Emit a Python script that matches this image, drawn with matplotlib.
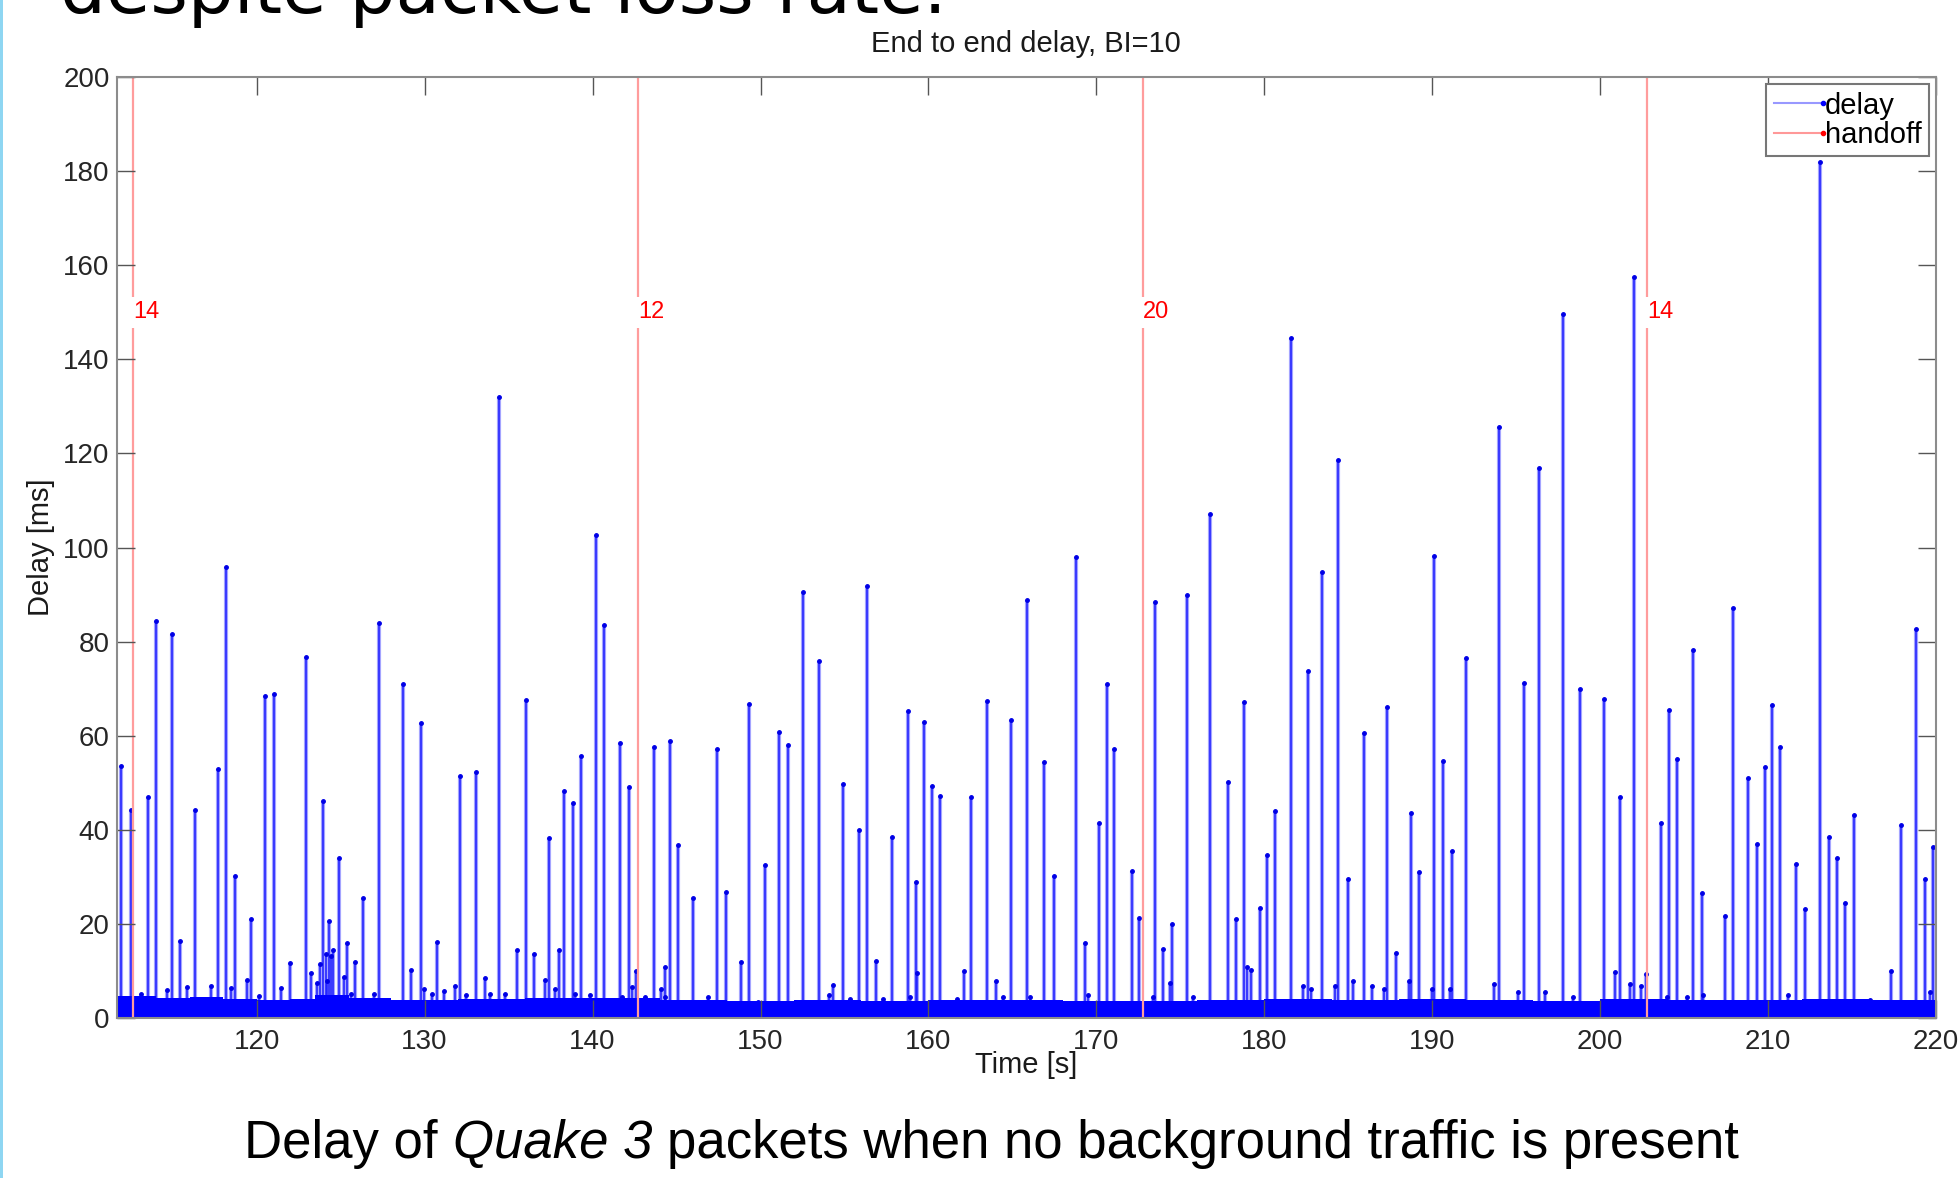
import matplotlib
matplotlib.use('Agg')
import matplotlib.pyplot as plt
from matplotlib.lines import Line2D
from matplotlib.patches import Rectangle
from matplotlib.legend_handler import HandlerLine2D

plt.rcParams['font.family'] = ['Liberation Sans', 'DejaVu Sans']

# delay spikes: time [s], peak delay [ms]
spike_t = [111.94, 112.52, 113.51, 114.0, 114.94, 115.46, 116.33, 117.7, 118.19, 118.7,
           119.66, 120.52, 121.01, 122.0, 122.96, 123.95, 124.33, 124.92, 125.38, 125.83,
           126.31, 127.26, 128.71, 129.17, 129.76, 130.75, 132.12, 133.06, 133.57, 134.44,
           135.52, 136.01, 136.51, 137.4, 138.0, 138.31, 138.83, 139.31, 140.2, 140.71,
           141.63, 142.14, 142.6, 143.63, 144.3, 144.6, 145.08, 146.01, 147.4, 147.92,
           148.85, 149.29, 150.24, 151.13, 151.63, 152.52, 153.51, 154.94, 155.89, 156.35,
           156.88, 157.82, 158.77, 159.25, 159.72, 160.22, 160.69, 162.14, 162.56, 163.51,
           164.92, 165.85, 166.88, 167.5, 168.77, 169.33, 170.16, 170.62, 171.07, 172.1,
           172.56, 173.47, 173.99, 174.48, 175.4, 176.75, 177.86, 178.33, 178.81, 179.74,
           180.18, 180.63, 181.57, 182.58, 183.43, 184.4, 185.0, 185.91, 187.32, 187.82,
           188.75, 189.23, 190.1, 190.65, 191.15, 192.02, 193.99, 195.46, 196.37, 197.8,
           198.81, 200.2, 201.15, 202.04, 203.61, 204.07, 204.58, 205.5, 206.07, 207.44,
           207.9, 208.83, 209.35, 209.84, 210.22, 210.73, 211.67, 212.18, 213.06, 213.61,
           214.09, 214.6, 215.1, 217.9, 218.81, 219.35, 219.84]
spike_peak = [53.6, 44.2, 47.0, 84.4, 81.6, 16.4, 44.2, 52.9, 95.8, 30.2,
              21.0, 68.5, 68.9, 11.8, 76.7, 46.2, 20.6, 34.1, 16.0, 12.0,
              25.5, 84.0, 71.0, 10.2, 62.6, 16.2, 51.4, 52.2, 8.6, 131.9,
              14.4, 67.7, 13.7, 38.3, 14.4, 48.3, 45.8, 55.7, 102.6, 83.5,
              58.4, 49.2, 10.0, 57.7, 10.9, 58.9, 36.7, 25.6, 57.2, 26.7,
              12.0, 66.7, 32.5, 60.8, 58.0, 90.5, 75.9, 49.7, 39.9, 91.9,
              12.2, 38.5, 65.2, 28.9, 63.0, 49.3, 47.2, 9.9, 47.0, 67.4,
              63.3, 88.8, 54.4, 30.2, 98.0, 16.0, 41.4, 70.9, 57.2, 31.3,
              21.3, 88.5, 14.7, 19.9, 89.9, 107.2, 50.2, 21.0, 67.1, 23.4,
              34.6, 44.1, 144.6, 73.7, 94.9, 118.7, 29.6, 60.5, 66.1, 13.8,
              43.5, 31.0, 98.3, 54.6, 35.5, 76.6, 125.6, 71.3, 116.8, 149.7,
              69.9, 67.8, 47.0, 157.5, 41.5, 65.5, 55.1, 78.2, 26.5, 21.6,
              87.1, 51.1, 37.0, 53.3, 66.6, 57.7, 32.8, 23.1, 182.0, 38.4,
              34.0, 24.5, 43.1, 41.1, 82.6, 29.5, 36.4]

# small bumps just above the dense floor
bump_t = [113.13, 114.68, 115.87, 117.26, 118.45, 119.4, 120.14, 121.47, 123.21, 123.6,
          123.77, 124.1, 124.2, 124.4, 124.56, 125.2, 125.6, 127.0, 129.96, 130.46,
          131.15, 131.8, 132.44, 133.9, 134.76, 137.16, 137.78, 138.97, 139.86, 141.75,
          142.34, 143.13, 144.05, 144.33, 146.9, 149.88, 154.05, 154.3, 155.34, 157.3,
          158.9, 159.3, 161.7, 164.0, 164.46, 166.05, 169.5, 173.4, 174.4, 175.77,
          178.95, 179.2, 182.3, 182.8, 184.2, 185.3, 186.4, 187.1, 188.6, 189.96,
          191.05, 193.7, 195.1, 196.7, 198.4, 200.9, 201.75, 202.4, 202.74, 203.97,
          205.16, 206.15, 211.2, 216.07, 217.32, 219.64]
bump_h = [5.1, 6.0, 6.6, 6.8, 6.3, 8.0, 4.6, 6.3, 9.6, 7.4,
          11.4, 13.6, 7.9, 13.1, 14.4, 8.7, 5.2, 5.2, 6.1, 5.2,
          5.7, 6.8, 4.8, 5.2, 5.2, 8.1, 6.1, 5.2, 4.8, 4.4,
          6.6, 4.4, 6.1, 4.4, 4.4, 3.5, 4.8, 7.0, 4.0, 4.0,
          4.4, 9.5, 4.0, 7.9, 4.4, 4.4, 4.8, 4.4, 7.4, 4.4,
          10.9, 10.3, 6.8, 6.2, 6.8, 7.9, 6.8, 6.2, 7.9, 6.2,
          6.2, 7.3, 5.6, 5.6, 4.4, 9.7, 7.3, 6.8, 9.4, 4.4,
          4.4, 5.0, 5.0, 3.8, 10.0, 5.6]

# dense floor of the delay trace (top of the solid band)
floor_t = [111.7, 114, 116, 118, 120, 122, 123.5, 125.5, 128, 132, 136, 140, 144, 148,
           152, 156, 160, 164, 168, 172, 176, 180, 184, 188, 192, 196, 200, 204,
           208, 212, 216, 220]
floor_h = [4.6, 4.2, 4.4, 4.0, 3.8, 4.1, 5.0, 4.2, 3.9, 4.1, 4.2, 4.3, 3.9, 3.7,
           3.9, 3.7, 3.9, 3.8, 3.6, 3.7, 3.9, 4.1, 3.9, 4.0, 3.8, 3.6, 4.0, 3.9,
           3.8, 4.1, 3.9, 4.2]

# handoffs
handoff_t = [112.66, 142.72, 172.76, 202.78]
handoff_lbl = ['14', '12', '20', '14']


class EndDot(HandlerLine2D):
    def create_artists(self, *args, **kwargs):
        arts = super().create_artists(*args, **kwargs)
        for a in arts:
            a.set_markevery([len(a.get_xdata()) - 1])
        return arts


W, H = 1960, 1178
fig = plt.figure(figsize=(19.6, 11.78), dpi=100)
ax = fig.add_axes([0.0595, 0.1358, 0.9283, 0.7988])

all_t = spike_t + bump_t
all_h = spike_peak + bump_h
ax.vlines(all_t, 0, all_h, colors='#a4a4ff', lw=3.0, zorder=1.5)
ax.vlines(all_t, 0, all_h, colors='#1c1cff', lw=1.1, zorder=1.6)
ax.plot(all_t, all_h, '.', color='#0000e6', ms=5, zorder=1.7)
ax.fill_between(floor_t, 0, floor_h, step='post', color='#0000ff', lw=0, zorder=2)

for hx, lbl in zip(handoff_t, handoff_lbl):
    ax.axvline(hx, color='#ff9c9c', lw=1.6, zorder=2.2)
    ax.text(hx, 150, lbl, color='#ff0000', fontsize=17, ha='left', va='center',
            bbox=dict(facecolor='white', edgecolor='none', pad=3), zorder=6)

ax.set_xlim(111.66, 220)
ax.set_ylim(0, 200)
ax.set_xticks(range(120, 221, 10))
ax.set_yticks(range(0, 201, 20))
ax.set_axisbelow(False)
ax.tick_params(direction='in', length=13, width=1, color='#555555', top=True, right=True,
               labelsize=20, labelcolor='#262626')
ax.tick_params(axis='x', pad=8)
ax.tick_params(axis='y', pad=5)
for s in ax.spines.values():
    s.set_color('#8c8c8c')
    s.set_linewidth(1.5)
    s.set_zorder(10)

ax.set_title('End to end delay, BI=10', fontsize=21, pad=18, color='#1a1a1a')
ax.set_xlabel('Time [s]', fontsize=21, color='#1a1a1a')
ax.set_ylabel('Delay [ms]', fontsize=21, color='#1a1a1a')
ax.xaxis.set_label_coords(0.5, -0.035)
ax.yaxis.set_label_coords(-0.034, 0.5)

h1 = Line2D([0], [0], color='#9898ff', lw=1.5, marker='.', ms=6, mfc='#0000ff', mec='#0000ff')
h2 = Line2D([0], [0], color='#ff9898', lw=1.5, marker='.', ms=6, mfc='#ff0000', mec='#ff0000')
leg = ax.legend([h1, h2], ['delay', 'handoff'], loc='upper right', fontsize=21,
                fancybox=False, edgecolor='#777777', framealpha=1, borderpad=0.25,
                labelspacing=0.05, handlelength=1.7, handletextpad=0.05,
                borderaxespad=0.25, numpoints=1, handler_map={Line2D: EndDot()})
leg.get_frame().set_linewidth(1.5)
leg.set_zorder(12)

# slide decorations
fig.add_artist(Rectangle((0, 0), 3 / W, 1, transform=fig.transFigure,
                         color='#8ed6f2', lw=0))
fig.text(60 / W, 1 - 13 / H, 'despite packet loss rate.', fontsize=52,
         family='DejaVu Sans', ha='left', va='baseline', color='black')

# caption with the game title in italics
parts = [('Delay of', 'normal'), ('Quake 3', 'italic'),
         ('packets when no background traffic is present', 'normal')]
cap_y = 1 - 1144 / H
r = fig.canvas.get_renderer()
texts = [fig.text(0, cap_y, s, fontsize=38, style=st, ha='left', va='center',
                  color='black') for s, st in parts]
probe1 = fig.text(0, 0, 'x x', fontsize=38)
probe2 = fig.text(0, 0, 'xx', fontsize=38)
space = probe1.get_window_extent(r).width - probe2.get_window_extent(r).width
probe1.remove()
probe2.remove()
widths = [t.get_window_extent(r).width for t in texts]
total = sum(widths) + space * (len(widths) - 1)
x = 991.5 - total / 2
for t, w in zip(texts, widths):
    t.set_x(x / W)
    x += w + space

plt.savefig('out.png', dpi=100)
